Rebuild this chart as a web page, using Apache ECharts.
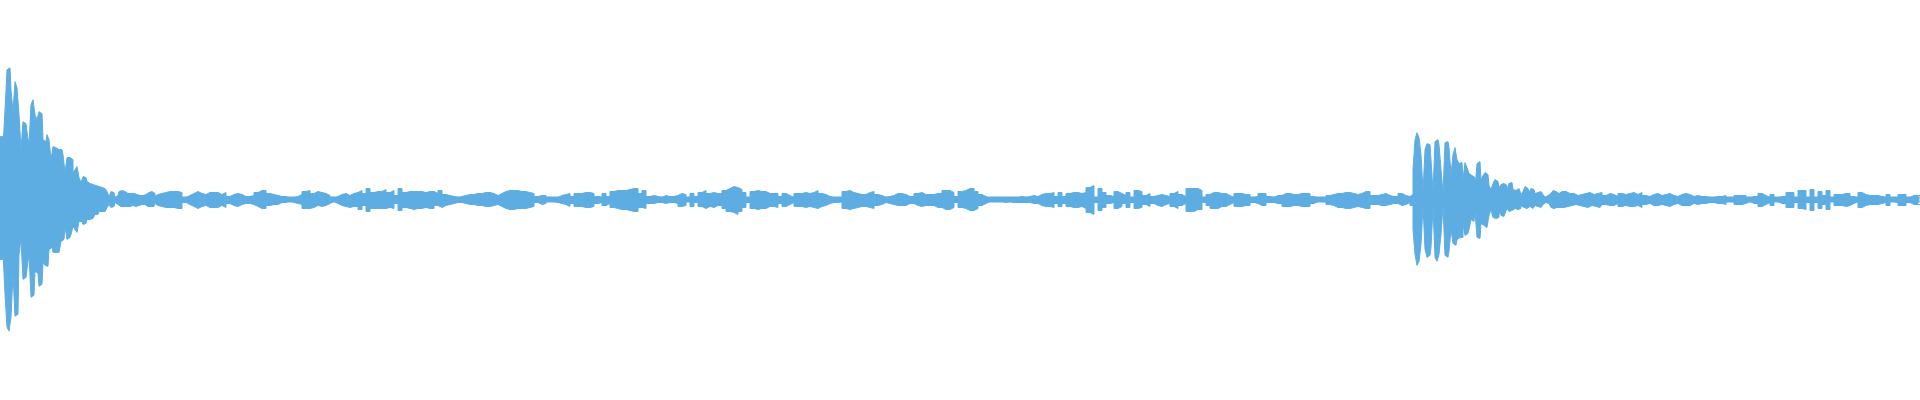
<!DOCTYPE html>
<html>
<head>
<meta charset="utf-8">
<style>
html,body{margin:0;padding:0;background:#ffffff;}
#chart{width:1920px;height:400px;}
</style>
<script src="https://cdn.jsdelivr.net/npm/echarts@6/dist/echarts.min.js"></script>
</head>
<body>
<div id="chart"></div>
<script>
// Waveform peaks (frame index -> amplitude above / below zero)
const burst1Start = 0, burst1Step = 2;
const burst1Top = [63,63,53,90,130,132,110,88,118,112,85,50,78,76,68,55,95,100,85,80,88,86,60,58,65,60,40,53,52,50,52,50,45,27,42,42,40,27,30,33,22,17,23,22,18,16,15,15,14,13,12,12,11,11,8,3,8,7,2,4,8,9,8,7,6,6,5,6,5,6,4,4,4,5,7,7,8,6,3,5,6];
const burst1Bottom = [60,60,53,95,128,132,118,75,117,115,55,40,80,78,70,55,98,96,72,74,87,85,63,66,67,50,48,53,53,53,53,42,40,27,40,38,35,27,30,33,22,22,25,24,20,20,19,17,15,15,12,12,12,12,8,5,8,7,3,5,7,8,7,7,6,7,6,6,7,6,5,5,5,6,7,7,8,7,4,6,7];

const noiseStart = 164, noiseStep = 4;
const noiseTop = [7,8,8,8,7,2,4,6,8,6, 5,7,7,7,5,7,3,5,6,5, 3,3,4,7,9,9,6,5,4,3, 3,1,2,3,5,8,9,6,8,
7,6,4,1,3,5,6,4,6,7, 9,6,11,7,8,8,10,7,9,4, 11,7,8,8,8,8,7,8,8,6, 9,5,4,3,2,3,4,5,5,6, 6,7,7,6,4,6,8,9,9,9, 8,8,7,6,3,
4,4,1,1,2,4,5,6,3,6, 6,7,7,6,3,2,6,3,8,9, 9,9,10,11,11,6,9,3,4,3, 2,4,3,3,4,6,5,2,6,3, 7,9,6,7,6,6,9,11,13,12, 10,7,2,8,9,
8,8,6,6,6,3,6,4,2,6, 6,7,6,7,9,6,5,3,2,2, 1,8,9,7,6,5,5,7,8,5, 4,2,3,4,6,6,5,3,3,6, 7,5,5,5,6,6,9,9,7,3, 8,9,11,11,8,
5,3,1,1,1,2,2,1,2,2, 3,2,3,4,3,5,6,6,7,3, 7,3,6,7,7,6,7,12,14,2, 11,7,4,3,8,6,4,7,2,9, 8,4,6,3,4,5,4,3,6,8, 5,3,11,11,11,
9,2,5,7,7,6,6,4,2,6, 6,5,5,2,3,6,6,3,2,4, 4,6,6,5,5,6,6,6,3,1, 1,1,4,5,6,6,7,7,6,5, 6,8,8,4,4,5,6,4,3,3, 6,4,3];
const noiseBottom = [8,8,8,9,9,3,5,7,9,7, 6,8,8,8,6,8,4,6,7,5, 4,4,5,7,9,9,6,5,5,3, 3,1,3,4,5,9,9,8,6,
7,6,4,2,4,6,7,8,7,7, 10,6,12,9,9,9,9,8,9,4, 11,8,9,10,9,9,8,9,9,6, 8,6,5,4,3,3,4,5,5,6, 6,7,7,6,5,7,9,10,10,9, 9,9,8,7,3,
5,4,1,2,3,4,5,7,4,7, 7,8,8,7,4,3,6,4,8,9, 10,10,11,12,12,8,9,4,4,3, 3,4,3,3,4,7,6,2,7,3, 7,9,7,8,6,6,9,12,13,15, 12,8,3,9,10,
9,9,7,7,8,4,7,5,3,7, 7,8,7,8,9,7,6,4,3,3, 2,9,10,9,8,7,7,8,9,6, 5,3,4,5,6,6,6,4,4,6, 7,6,6,6,8,8,10,10,8,3, 8,9,11,11,9,
6,4,2,2,1,2,3,2,3,3, 3,3,3,4,4,6,7,7,8,4, 7,4,7,8,8,7,9,13,15,3, 11,8,4,3,9,7,4,8,3,9, 8,5,7,4,6,7,5,4,7,9, 6,4,12,12,10,
10,3,6,9,9,7,7,5,3,7, 7,6,6,3,4,6,6,3,3,4, 4,7,7,6,6,7,7,7,4,2, 1,2,5,6,8,8,9,9,8,7, 8,9,9,5,5,6,6,5,4,4, 6,5,3];

const burst2Start = 1412, burst2Step = 2;
const burst2Top = [5,30,60,67,62,45,8,50,56,55, 40,8,58,60,55,30,6,57,58,52, 25,45,52,40,36,37,20,37,32,26, 24,22,10,36,38,20,24,27,25,14, 10,16,20,18,12,15,16,14,9,16, 17,10,9,11,10,5,8,13,11,7, 11,10,6,7,8,8,5,2,4,6, 8,9,8,6,8];
const burst2Bottom = [6,30,55,66,62,45,6,50,58,56, 48,8,58,62,55,35,6,56,58,52, 30,44,46,40,38,38,25,36,34,30, 20,22,12,38,39,24,26,28,26,16, 10,18,19,18,12,16,17,14,9,12, 11,9,9,10,9,6,8,9,9,7, 9,9,6,7,8,8,5,3,4,6, 8,9,8,6,8];

const tailStart = 1564, tailStep = 4;
const tailTop = [8,6,6,4,5,6,7,5,6,7, 4,6,5,3,6,5,6,7,5,7, 4,3,5,6,4,5,6,4,3,5, 6,5,3,4,3,3,2,2,3,3, 4,1,1,4,4,4,1,3,3,6, 4,2,5,1,3,3,7,7,2,9, 9,2,10,2,8,4,9,1,5,5, 6,6,3,1,7,5,4,4,4,3, 2,5,1,2,5,5,2,4,4,4];
const tailBottom = [8,7,6,5,6,7,8,6,7,8, 5,6,6,4,7,6,7,7,6,8, 5,4,6,6,5,6,7,5,4,6, 6,6,4,5,4,4,3,3,4,4, 5,2,2,5,5,4,2,4,4,7, 5,3,6,2,4,4,8,8,3,9, 10,3,11,3,9,5,10,2,6,6, 7,6,4,2,8,6,5,5,5,4, 3,6,2,3,6,6,3,5,5,5];

const segments = [
  [burst1Start, burst1Step, burst1Top, burst1Bottom],
  [noiseStart, noiseStep, noiseTop, noiseBottom],
  [burst2Start, burst2Step, burst2Top, burst2Bottom],
  [tailStart, tailStep, tailTop, tailBottom]
];
const upper = [], lower = [];
segments.forEach(([start, step, top, bottom]) => {
  top.forEach((v, i) => upper.push([start + i * step, v]));
  bottom.forEach((v, i) => lower.push([start + i * step, -v]));
});

const color = '#5dade2';
const chart = echarts.init(document.getElementById('chart'), null, {renderer: 'canvas'});
chart.setOption({
  animation: false,
  backgroundColor: '#ffffff',
  grid: {left: 0, right: 0, top: -1, bottom: 1},
  xAxis: {type: 'value', min: 0, max: 1920, show: false},
  yAxis: {type: 'value', min: -200, max: 200, show: false},
  series: [
    {type: 'line', data: upper, step: 'middle', showSymbol: false, silent: true,
     lineStyle: {color: color, width: 1}, areaStyle: {color: color, opacity: 1, origin: -3}},
    {type: 'line', data: lower, step: 'middle', showSymbol: false, silent: true,
     lineStyle: {color: color, width: 1}, areaStyle: {color: color, opacity: 1, origin: 3}}
  ]
});
</script>
</body>
</html>
